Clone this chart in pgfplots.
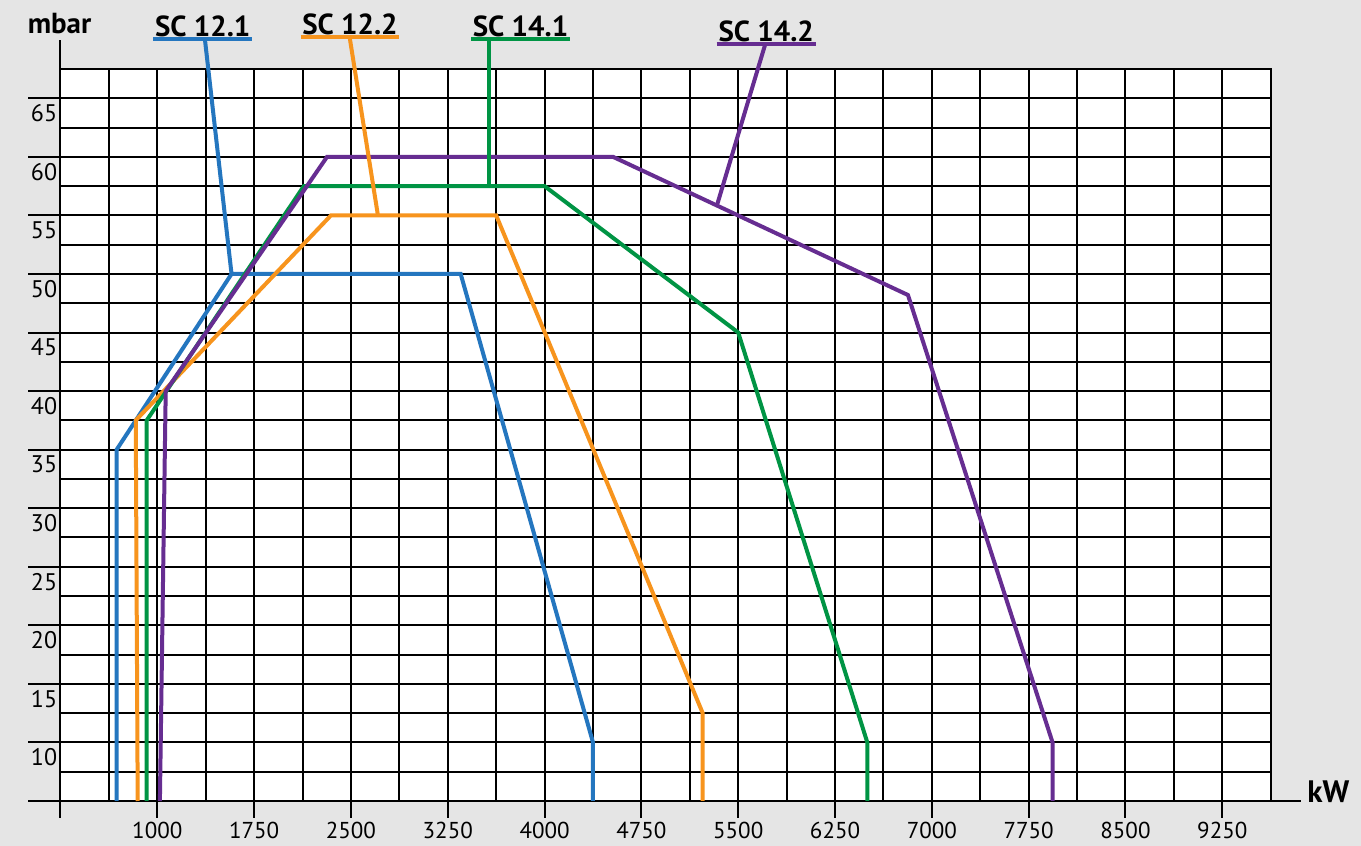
\documentclass[border=0pt]{standalone}
\usepackage{pgfplots}
\pgfplotsset{compat=1.18}
\usepackage{fontspec}
\setmainfont{PT Sans}

\definecolor{bgrey}{RGB}{229,229,229}
\definecolor{sca}{RGB}{36,118,191}   % SC 12.1
\definecolor{scb}{RGB}{247,148,29}   % SC 12.2
\definecolor{scc}{RGB}{0,148,68}     % SC 14.1
\definecolor{scd}{RGB}{102,45,145}   % SC 14.2

\begin{document}
\begin{tikzpicture}[x=0.5pt,y=0.5pt]
\fill[bgrey] (0,0) rectangle (1361,846);

\begin{axis}[
    at={(30.25pt,22.5pt)}, anchor=south west,
    scale only axis, width=605.1pt, height=366pt,
    xmin=250, xmax=9625, ymin=5, ymax=67.5,
    clip=false,
    axis background/.style={fill=white},
    axis line style={black, line width=1pt},
    xtick={250,1000,...,9250},
    xticklabels={{},1000,1750,2500,3250,4000,4750,5500,6250,7000,7750,8500,9250},
    minor xtick={625,1375,...,9625},
    ytick={10,15,...,65},
    yticklabels={10,15,20,25,30,35,40,45,50,55,60,65},
    minor ytick={7.5,12.5,...,67.5},
    grid=both,
    major grid style={black, line width=1pt},
    minor grid style={black, line width=1pt},
    major tick length=0pt, minor tick length=0pt,
    xticklabel style={anchor=north, inner sep=0pt, yshift=-10.5pt, font=\fontsize{11.5}{13}\selectfont},
    yticklabel style={anchor=north east, inner sep=0pt, xshift=-1.5pt, yshift=-3pt, font=\fontsize{12}{14}\selectfont},
    every axis plot/.append style={line width=2pt, line join=miter},
]

% tick stubs and extended axis lines
\pgfplotsinvokeforeach{250,1000,...,9250}{\draw[line width=1pt] (axis cs:#1,5) -- ++(0pt,-8.5pt);}
\pgfplotsinvokeforeach{10,15,...,65}{\draw[line width=1pt] (axis cs:250,#1) -- ++(-16pt,0pt);}
\draw[line width=1pt] (axis cs:250,5) -- ++(-16pt,0pt);
\draw[line width=1pt] (axis cs:9625,5) -- ++(15pt,0pt);
\draw[line width=1pt] (axis cs:250,67.5) -- ++(0pt,14.5pt);

% SC 12.1
\addplot[sca] coordinates {(685,5) (685,35) (1575,50) (3350,50) (4375,10) (4375,5)};
% SC 12.2
\addplot[scb] coordinates {(848,5) (833,37.5) (2345,55) (3625,55) (5225,12.5) (5225,5)};
% SC 14.1
\addplot[scc] coordinates {(918,5) (918,37.5) (2135,57.5) (4000,57.5) (5500,45) (6500,10) (6500,5)};
% SC 14.2
\addplot[scd] coordinates {(1020,5) (1065,40) (2315,60) (4530,60) (6815,48.2) (7935,10) (7935,5)};

% leader lines
\draw[sca, line width=2pt] (axis cs:1369,70.0) -- (axis cs:1575,50);
\draw[scb, line width=2pt] (axis cs:2490,70.2) -- (axis cs:2709,55);
\draw[scc, line width=2pt] (axis cs:3569,70.1) -- (axis cs:3569,57.5);
\draw[scd, line width=2pt] (axis cs:5709,69.6) -- (axis cs:5335,55.85);
\end{axis}

% series labels with coloured underlines
\begin{scope}[font=\fontsize{14.5}{16}\selectfont\bfseries]
\draw[sca, line width=2pt] (153,806.7) -- (252.3,806.7);
\node[anchor=base, inner sep=0pt] at (202.7,809.5) {SC 12.1};
\draw[scb, line width=2pt] (300.7,808.7) -- (399.3,808.7);
\node[anchor=base, inner sep=0pt] at (350,811.5) {SC 12.2};
\draw[scc, line width=2pt] (471,806.7) -- (570,806.7);
\node[anchor=base, inner sep=0pt] at (520.5,809.5) {SC 14.1};
\draw[scd, line width=2pt] (716.7,802) -- (815.7,802);
\node[anchor=base, inner sep=0pt] at (766.2,804.5) {SC 14.2};
\node[anchor=base, inner sep=0pt] at (59.5,812) {mbar};
\node[anchor=base west, inner sep=0pt, font=\fontsize{15.5}{17}\selectfont\bfseries] at (1307,43) {kW};
\end{scope}

\pgfresetboundingbox
\path[use as bounding box] (0,0) rectangle (1361,846);
\end{tikzpicture}
\end{document}
